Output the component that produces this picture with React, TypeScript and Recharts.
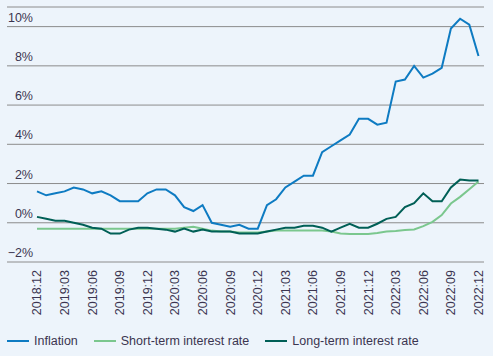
import { LineChart, Line, XAxis, YAxis, CartesianGrid } from 'recharts'

const months = [
  '2018:12', '2019:01', '2019:02', '2019:03', '2019:04', '2019:05', '2019:06', '2019:07', '2019:08',
  '2019:09', '2019:10', '2019:11', '2019:12', '2020:01', '2020:02', '2020:03', '2020:04', '2020:05',
  '2020:06', '2020:07', '2020:08', '2020:09', '2020:10', '2020:11', '2020:12', '2021:01', '2021:02',
  '2021:03', '2021:04', '2021:05', '2021:06', '2021:07', '2021:08', '2021:09', '2021:10', '2021:11',
  '2021:12', '2022:01', '2022:02', '2022:03', '2022:04', '2022:05', '2022:06', '2022:07', '2022:08',
  '2022:09', '2022:10', '2022:11', '2022:12',
]

const inflation = [
  1.6, 1.4, 1.5, 1.6, 1.8, 1.7, 1.5, 1.6, 1.4, 1.1, 1.1, 1.1, 1.5, 1.7, 1.7, 1.4, 0.8, 0.6, 0.9, 0.0,
  -0.1, -0.2, -0.1, -0.3, -0.3, 0.9, 1.2, 1.8, 2.1, 2.4, 2.4, 3.6, 3.9, 4.2, 4.5, 5.3, 5.3, 5.0, 5.1,
  7.2, 7.3, 8.0, 7.4, 7.6, 7.9, 9.9, 10.4, 10.1, 8.5,
]

const shortTerm = [
  -0.3, -0.3, -0.3, -0.3, -0.3, -0.3, -0.3, -0.3, -0.3, -0.3, -0.3, -0.3, -0.3, -0.3, -0.3, -0.3,
  -0.25, -0.2, -0.3, -0.4, -0.45, -0.45, -0.5, -0.5, -0.5, -0.45, -0.4, -0.4, -0.4, -0.4, -0.4, -0.4,
  -0.45, -0.55, -0.57, -0.57, -0.57, -0.52, -0.45, -0.42, -0.37, -0.34, -0.17, 0.05, 0.39, 0.98, 1.32,
  1.71, 2.1,
]

const longTerm = [
  0.3, 0.2, 0.1, 0.1, 0.0, -0.1, -0.25, -0.3, -0.55, -0.55, -0.35, -0.25, -0.25, -0.3, -0.35, -0.45,
  -0.3, -0.45, -0.35, -0.45, -0.45, -0.45, -0.55, -0.55, -0.55, -0.45, -0.35, -0.25, -0.25, -0.15,
  -0.15, -0.25, -0.45, -0.25, -0.05, -0.25, -0.25, -0.05, 0.2, 0.3, 0.8, 1.0, 1.5, 1.1, 1.1, 1.8, 2.2,
  2.15, 2.15,
]

const yTicks = [-2, 0, 2, 4, 6, 8, 10]

const seriesNames = ['Inflation', 'Short-term interest rate', 'Long-term interest rate']

const data = months.map((m, i) => ({
  month: m,
  inflation: inflation[i],
  shortTerm: shortTerm[i],
  longTerm: longTerm[i],
}))

const BG = '#edf4fb'
const TEXT = '#3b3550'
const GRID = '#8c8c8c'
const BLUE = '#0e7bc2'
const LIGHT = '#7bc78e'
const DARK = '#005f56'
const FONT = '"Liberation Sans", Arial, sans-serif'
const FS = 12.5

function YTick(props: any) {
  const { y, payload } = props
  const v = payload.value
  const label = (v < 0 ? '\u2212' + Math.abs(v) : String(v)) + '%'
  return (
    <text x={33} y={y - 5} textAnchor="end" fill={TEXT} fontSize={FS} fontFamily={FONT}>
      {label}
    </text>
  )
}

function XTick(props: any) {
  const { x, payload } = props
  const top = 270
  return (
    <text
      x={x}
      y={top}
      dy="0.35em"
      textAnchor="end"
      transform={`rotate(-90, ${x}, ${top})`}
      fill={TEXT}
      fontSize={FS}
      fontFamily={FONT}
    >
      {payload.value}
    </text>
  )
}

const colors = [BLUE, LIGHT, DARK]

export default function App() {
  return (
    <div style={{ position: 'fixed', left: 0, top: 0, width: 493, height: 356, background: BG }}>
      <div style={{ position: 'absolute', left: 0, top: 0 }}>
        <LineChart width={493} height={322} data={data} margin={{ top: 7, right: 9, bottom: 0, left: 7 }}>
          <CartesianGrid vertical={false} stroke={GRID} />
          <XAxis
            dataKey="month"
            interval={2}
            tickLine={false}
            axisLine={false}
            height={60}
            padding={{ left: 30, right: 5.5 }}
            tick={<XTick />}
          />
          <YAxis
            mirror
            width={30}
            domain={[-2, 11]}
            ticks={yTicks}
            interval={0}
            tickLine={false}
            axisLine={false}
            tick={<YTick />}
          />
          <Line dataKey="inflation" stroke={BLUE} strokeWidth={2} dot={false} isAnimationActive={false} />
          <Line dataKey="shortTerm" stroke={LIGHT} strokeWidth={2} dot={false} isAnimationActive={false} />
          <Line dataKey="longTerm" stroke={DARK} strokeWidth={2} dot={false} isAnimationActive={false} />
        </LineChart>
      </div>
      <div
        style={{
          position: 'absolute',
          left: 7,
          top: 332,
          display: 'flex',
          alignItems: 'center',
          fontFamily: FONT,
          fontSize: FS,
          color: TEXT,
          lineHeight: '18px',
          whiteSpace: 'nowrap',
        }}
      >
        {seriesNames.map((name, i) => (
          <div key={name} style={{ display: 'flex', alignItems: 'center', marginRight: 16 }}>
            <span style={{ display: 'inline-block', width: 22, height: 2, background: colors[i], marginRight: 5 }} />
            <span>{name}</span>
          </div>
        ))}
      </div>
    </div>
  )
}
